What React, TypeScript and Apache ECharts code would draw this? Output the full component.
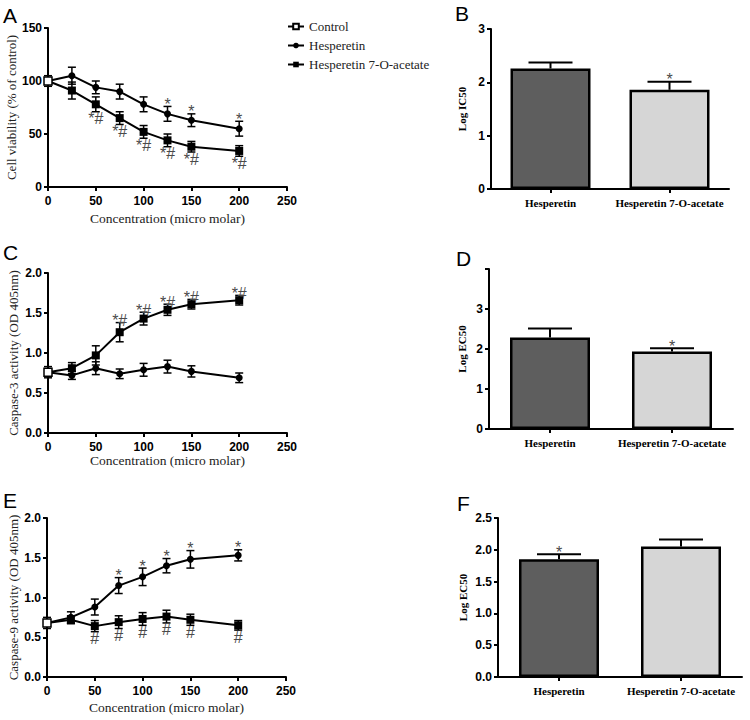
import React, { useEffect, useRef } from 'react';
import * as echarts from 'echarts';

const SERIF = 'Liberation Serif';
const SANS = 'Liberation Sans';

// Concentrations (micro molar)
const doseConc = [25, 50, 75, 100, 125, 150, 200];
const concTicks = [0, 50, 100, 150, 200, 250];

// Panel A: cell viability (% of control)
const controlViability = 100;
const controlViabilityErr = 5;
const viabHesp = [105, 94, 90, 78, 69, 63, 55];
const viabHespErr = [8, 6, 7, 7, 7, 6, 7];
const viabAcet = [91, 78, 65, 52, 44, 38, 34];
const viabAcetErr = [8, 7, 6, 6, 6, 5, 5];
const viabHespMarks = ['', '', '', '', '*', '*', '*'];
const viabAcetMarks = ['', '*#', '*#', '*#', '*#', '*#', '*#'];

// Panel C: caspase-3 activity (OD 405nm)
const controlCasp3 = 0.76;
const controlCasp3Err = 0.07;
const casp3Hesp = [0.72, 0.81, 0.74, 0.79, 0.83, 0.77, 0.69];
const casp3HespErr = [0.05, 0.08, 0.06, 0.08, 0.08, 0.07, 0.06];
const casp3Acet = [0.81, 0.97, 1.26, 1.43, 1.54, 1.61, 1.66];
const casp3AcetErr = [0.07, 0.12, 0.12, 0.08, 0.07, 0.06, 0.06];
const casp3AcetMarks = ['', '', '*#', '*#', '*#', '*#', '*#'];

// Panel E: caspase-9 activity (OD 405nm)
const controlCasp9 = 0.68;
const controlCasp9Err = 0.07;
const casp9Hesp = [0.75, 0.88, 1.15, 1.26, 1.40, 1.48, 1.53];
const casp9HespErr = [0.07, 0.10, 0.10, 0.11, 0.09, 0.11, 0.07];
const casp9Acet = [0.72, 0.64, 0.69, 0.73, 0.76, 0.72, 0.65];
const casp9AcetErr = [0.05, 0.07, 0.08, 0.08, 0.08, 0.07, 0.06];
const casp9HespMarks = ['', '', '*', '*', '*', '*', '*'];
const casp9AcetMarks = ['', '#', '#', '#', '#', '#', '#'];

// Bar panels
const compounds = ['Hesperetin', 'Hesperetin 7-O-acetate'];
const logIC50 = [2.26, 1.86];
const logIC50Err = [0.11, 0.15];
const logIC50Marks = ['', '*'];
const logEC50Casp3 = [2.29, 1.94];
const logEC50Casp3Err = [0.22, 0.08];
const logEC50Casp3Marks = ['', '*'];
const logEC50Casp9 = [1.85, 2.05];
const logEC50Casp9Err = [0.08, 0.11];
const logEC50Casp9Marks = ['*', ''];
const barColors = ['#5e5e5e', '#d6d6d6'];

const grids = [
  { left: 48, top: 28, width: 239, height: 159 },   // A
  { left: 491, top: 29, width: 238, height: 160 },  // B
  { left: 48, top: 273, width: 239, height: 160 },  // C
  { left: 489, top: 269, width: 244, height: 160 }, // D
  { left: 47, top: 518, width: 239, height: 159 },  // E
  { left: 498, top: 518, width: 244, height: 159 }, // F
];

const MARK_COLOR = '#4a4a4a';
const axisLine = { show: true, lineStyle: { color: '#000', width: 2 } };
const axisTick = { show: true, length: 4, lineStyle: { color: '#000', width: 2 } };
const tickLabel = { color: '#000', fontFamily: SANS, fontWeight: 'bold', fontSize: 12 };

function concAxis(gi: number, nameGap: number) {
  return {
    type: 'value', gridIndex: gi, min: concTicks[0], max: concTicks[concTicks.length - 1], interval: 50,
    axisLine, axisTick, splitLine: { show: false },
    axisLabel: { ...tickLabel, margin: 8 },
    name: 'Concentration (micro molar)', nameLocation: 'middle', nameGap,
    nameTextStyle: { fontFamily: SERIF, fontSize: 13.5, color: '#222' },
  };
}

function valAxis(gi: number, min: number, max: number, interval: number, dec: number, name: string, nameGap: number, bar: boolean, hideTop?: boolean) {
  return {
    type: 'value', gridIndex: gi, min, max, interval,
    axisLine, axisTick, splitLine: { show: false },
    axisLabel: {
      ...tickLabel, margin: 6,
      formatter: (v: number) => (hideTop && v === max ? '' : v.toFixed(dec)),
    },
    name, nameLocation: 'middle', nameGap, nameRotate: 90,
    nameTextStyle: bar
      ? { fontFamily: SERIF, fontSize: 11, fontWeight: 'bold', color: '#000' }
      : { fontFamily: SERIF, fontSize: 13, color: '#222' },
  };
}

function catAxis(gi: number) {
  return {
    type: 'category', gridIndex: gi, data: compounds,
    axisLine, axisTick: { ...axisTick, alignWithLabel: true },
    axisLabel: { color: '#000', fontFamily: SERIF, fontWeight: 'bold', fontSize: 11, margin: 8, interval: 0 },
  };
}

function lineSeries(name: string, gi: number, ctrl: number, ys: number[], symbol: string, size: number) {
  return {
    type: 'line', name, xAxisIndex: gi, yAxisIndex: gi, z: 3,
    data: [{ value: [0, ctrl], symbol: 'none' }, ...doseConc.map((x, i) => [x, ys[i]])],
    symbol, symbolSize: size,
    itemStyle: { color: '#000' },
    lineStyle: { color: '#000', width: 2 },
  };
}

function controlSeries(gi: number, ctrl: number) {
  return {
    type: 'line', name: 'Control', xAxisIndex: gi, yAxisIndex: gi, z: 5,
    data: [[0, ctrl]], symbol: 'rect', symbolSize: 8,
    itemStyle: { color: '#fff', borderColor: '#000', borderWidth: 1.5 },
    lineStyle: { color: '#000', width: 2 },
  };
}

function lineErr(gi: number, xs: number[], ys: number[], es: number[], marks: string[] | null, pos: 'above' | 'below') {
  return {
    type: 'custom', name: 'err', xAxisIndex: gi, yAxisIndex: gi, z: 2,
    data: xs.map((x, i) => [x, ys[i], es[i]]),
    renderItem: (params: any, api: any) => {
      const i = params.dataIndex;
      const x = api.value(0), y = api.value(1), e = api.value(2);
      const t = api.coord([x, y + e]);
      const b = api.coord([x, y - e]);
      const cw = 4;
      const ls = { stroke: '#000', lineWidth: 1.5 };
      const children: any[] = [
        { type: 'line', shape: { x1: t[0], y1: t[1], x2: b[0], y2: b[1] }, style: ls },
        { type: 'line', shape: { x1: t[0] - cw, y1: t[1], x2: t[0] + cw, y2: t[1] }, style: ls },
        { type: 'line', shape: { x1: b[0] - cw, y1: b[1], x2: b[0] + cw, y2: b[1] }, style: ls },
      ];
      const m = marks ? marks[i] : '';
      if (m) {
        children.push({
          type: 'text', x: t[0], y: pos === 'above' ? t[1] + 6 : b[1] - 1,
          style: { text: m, fill: MARK_COLOR, fontSize: 16, fontFamily: SANS, align: 'center', verticalAlign: pos === 'above' ? 'bottom' : 'top' },
        });
      }
      return { type: 'group', children };
    },
  };
}

function barSeries(gi: number, vals: number[]) {
  return {
    type: 'bar', name: 'bar', xAxisIndex: gi, yAxisIndex: gi, barWidth: 80, z: 2,
    data: vals.map((v, i) => ({ value: v, itemStyle: { color: barColors[i] } })),
    itemStyle: { borderColor: '#000', borderWidth: 2.5 },
  };
}

function barErr(gi: number, vals: number[], errs: number[], marks: string[]) {
  return {
    type: 'custom', name: 'barerr', xAxisIndex: gi, yAxisIndex: gi, z: 3,
    data: vals.map((v, i) => [i, v, errs[i]]),
    renderItem: (params: any, api: any) => {
      const i = params.dataIndex;
      const x = api.value(0), v = api.value(1), e = api.value(2);
      const b = api.coord([x, v]);
      const t = api.coord([x, v + e]);
      const ls = { stroke: '#000', lineWidth: 2 };
      const children: any[] = [
        { type: 'line', shape: { x1: t[0], y1: t[1], x2: b[0], y2: b[1] }, style: ls },
        { type: 'line', shape: { x1: t[0] - 22, y1: t[1], x2: t[0] + 22, y2: t[1] }, style: ls },
      ];
      if (marks[i]) {
        children.push({
          type: 'text', x: t[0], y: t[1] + 6,
          style: { text: marks[i], fill: MARK_COLOR, fontSize: 16, fontFamily: SANS, align: 'center', verticalAlign: 'bottom' },
        });
      }
      return { type: 'group', children };
    },
  };
}

function panelLetter(text: string, x: number, y: number) {
  return { type: 'text', x, y, style: { text, fontSize: 21, fontFamily: SANS, fill: '#000', verticalAlign: 'middle' } };
}

export default function App() {
  const ref = useRef<HTMLDivElement>(null);
  useEffect(() => {
    if (!ref.current) return;
    const chart = echarts.init(ref.current, null, { renderer: 'svg' });
    const option: any = {
      animation: false,
      backgroundColor: '#fff',
      grid: grids.map((g) => ({ ...g, containLabel: false })),
      legend: {
        data: ['Control', 'Hesperetin', 'Hesperetin 7-O-acetate'],
        orient: 'vertical', left: 282, top: 15, itemWidth: 16, itemHeight: 7, itemGap: 6,
        textStyle: { fontFamily: SERIF, fontSize: 13, color: '#222' },
        selectedMode: false,
      },
      xAxis: [concAxis(0, 24), catAxis(1), concAxis(2, 20), catAxis(3), concAxis(4, 23), catAxis(5)],
      yAxis: [
        valAxis(0, 0, 150, 50, 0, 'Cell viability (% of control)', 28, false),
        valAxis(1, 0, 3, 1, 0, 'Log IC50', 24, true),
        valAxis(2, 0, 2, 0.5, 1, 'Caspase-3 activity (OD 405nm)', 28, false),
        valAxis(3, 0, 4, 1, 0, 'Log EC50', 22, true, true),
        valAxis(4, 0, 2, 0.5, 1, 'Caspase-9 activity (OD 405nm)', 27, false),
        valAxis(5, 0, 2.5, 0.5, 1, 'Log EC50', 30, true),
      ],
      graphic: [
        panelLetter('A', 3, 15),
        panelLetter('B', 455, 13),
        panelLetter('C', 3, 252),
        panelLetter('D', 456, 258),
        panelLetter('E', 3, 500),
        panelLetter('F', 457, 503),
      ],
      series: [
        // A
        lineErr(0, [0], [controlViability], [controlViabilityErr], null, 'above'),
        lineErr(0, doseConc, viabHesp, viabHespErr, viabHespMarks, 'above'),
        lineErr(0, doseConc, viabAcet, viabAcetErr, viabAcetMarks, 'below'),
        lineSeries('Hesperetin', 0, controlViability, viabHesp, 'circle', 7),
        lineSeries('Hesperetin 7-O-acetate', 0, controlViability, viabAcet, 'rect', 8),
        controlSeries(0, controlViability),
        // B
        barSeries(1, logIC50),
        barErr(1, logIC50, logIC50Err, logIC50Marks),
        // C
        lineErr(2, [0], [controlCasp3], [controlCasp3Err], null, 'above'),
        lineErr(2, doseConc, casp3Hesp, casp3HespErr, null, 'above'),
        lineErr(2, doseConc, casp3Acet, casp3AcetErr, casp3AcetMarks, 'above'),
        lineSeries('Hesperetin', 2, controlCasp3, casp3Hesp, 'circle', 7),
        lineSeries('Hesperetin 7-O-acetate', 2, controlCasp3, casp3Acet, 'rect', 8),
        controlSeries(2, controlCasp3),
        // D
        barSeries(3, logEC50Casp3),
        barErr(3, logEC50Casp3, logEC50Casp3Err, logEC50Casp3Marks),
        // E
        lineErr(4, [0], [controlCasp9], [controlCasp9Err], null, 'above'),
        lineErr(4, doseConc, casp9Hesp, casp9HespErr, casp9HespMarks, 'above'),
        lineErr(4, doseConc, casp9Acet, casp9AcetErr, casp9AcetMarks, 'below'),
        lineSeries('Hesperetin', 4, controlCasp9, casp9Hesp, 'circle', 7),
        lineSeries('Hesperetin 7-O-acetate', 4, controlCasp9, casp9Acet, 'rect', 8),
        controlSeries(4, controlCasp9),
        // F
        barSeries(5, logEC50Casp9),
        barErr(5, logEC50Casp9, logEC50Casp9Err, logEC50Casp9Marks),
      ],
    };
    chart.setOption(option);
    return () => chart.dispose();
  }, []);
  return <div ref={ref} style={{ position: 'absolute', left: 0, top: 0, width: 750, height: 720, background: '#fff' }} />;
}
